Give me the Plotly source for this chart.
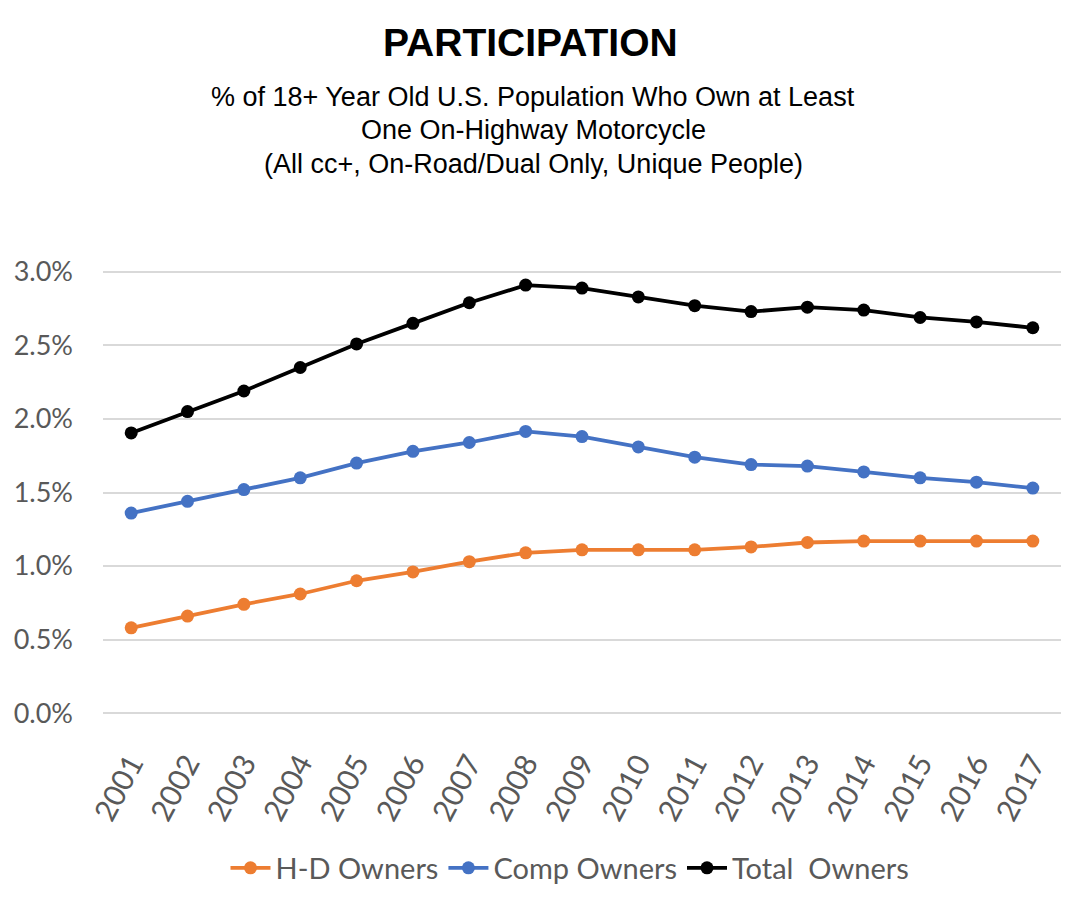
import plotly.graph_objects as go

years = [str(y) for y in range(2001, 2018)]
hd_owners = [0.58, 0.66, 0.74, 0.81, 0.90, 0.96, 1.03, 1.09, 1.11, 1.11, 1.11, 1.13, 1.16, 1.17, 1.17, 1.17, 1.17]
comp_owners = [1.36, 1.44, 1.52, 1.60, 1.70, 1.78, 1.84, 1.915, 1.88, 1.81, 1.74, 1.69, 1.68, 1.64, 1.60, 1.57, 1.53]
total_owners = [1.905, 2.05, 2.19, 2.35, 2.51, 2.65, 2.79, 2.91, 2.89, 2.83, 2.77, 2.73, 2.76, 2.74, 2.69, 2.66, 2.62]
y_ticks = [0.0, 0.5, 1.0, 1.5, 2.0, 2.5, 3.0]
y_tick_labels = ["0.0%", "0.5%", "1.0%", "1.5%", "2.0%", "2.5%", "3.0%"]

series = [
    ("H-D Owners", hd_owners, "#ED7D31"),
    ("Comp Owners", comp_owners, "#4472C4"),
    ("Total  Owners", total_owners, "#000000"),
]

# page body has an 8px margin: layout coordinates are offset by it
OFF = 8
W_FIG, H_FIG = 1080, 905
L, R, T, B = 95, 27, 258, 194
PW = W_FIG - L - R
PH = H_FIG - T - B

def px_x(px):
    return (px - OFF - L) / PW

def px_y(py):
    return (H_FIG - B - (py - OFF)) / PH

axis_family = "Lato, Open Sans, sans-serif"

fig = go.Figure()
for name, vals, color in series:
    fig.add_trace(go.Scatter(
        x=years, y=vals, name=name, mode="lines+markers",
        line=dict(color=color, width=3.8),
        marker=dict(color=color, size=13),
    ))

fig.update_layout(
    width=W_FIG, height=H_FIG,
    paper_bgcolor="white", plot_bgcolor="white",
    margin=dict(l=L, r=R, t=T, b=B),
    showlegend=True,
    legend=dict(orientation="h", x=px_x(570), xanchor="center", y=px_y(868), yanchor="middle",
                font=dict(family=axis_family, size=29, color="#595959"), itemwidth=40),
    xaxis=dict(type="category", range=[-0.5, 16.5], tickangle=-62,
               tickfont=dict(family=axis_family, size=30, color="#595959"),
               showgrid=False, showline=False, ticks="", zeroline=False, automargin=False,
               ticklabelstandoff=20),
    yaxis=dict(range=[-0.04, 3.04], tickvals=y_ticks, ticktext=y_tick_labels,
               tickfont=dict(family=axis_family, size=27, color="#595959"),
               showgrid=True, gridcolor="#D9D9D9", gridwidth=2, zeroline=False, showline=False,
               ticklabelstandoff=29, automargin=False),
)

fig.add_annotation(text="<b>PARTICIPATION</b>", x=px_x(530), xref="paper", y=px_y(43), yref="paper",
                   yanchor="middle", showarrow=False,
                   font=dict(family="Liberation Sans, Arial", size=39, color="black"))
subtitle_lines = ["% of 18+ Year Old U.S. Population Who Own at Least",
                  "One On-Highway Motorcycle",
                  "(All cc+, On-Road/Dual Only, Unique People)"]
for i, line in enumerate(subtitle_lines):
    fig.add_annotation(text=line, x=px_x(533), xref="paper", y=px_y(97 + 33.5 * i), yref="paper",
                       yanchor="middle", showarrow=False,
                       font=dict(family="Liberation Sans, Arial", size=27, color="black"))

fig.write_html("out.html")
